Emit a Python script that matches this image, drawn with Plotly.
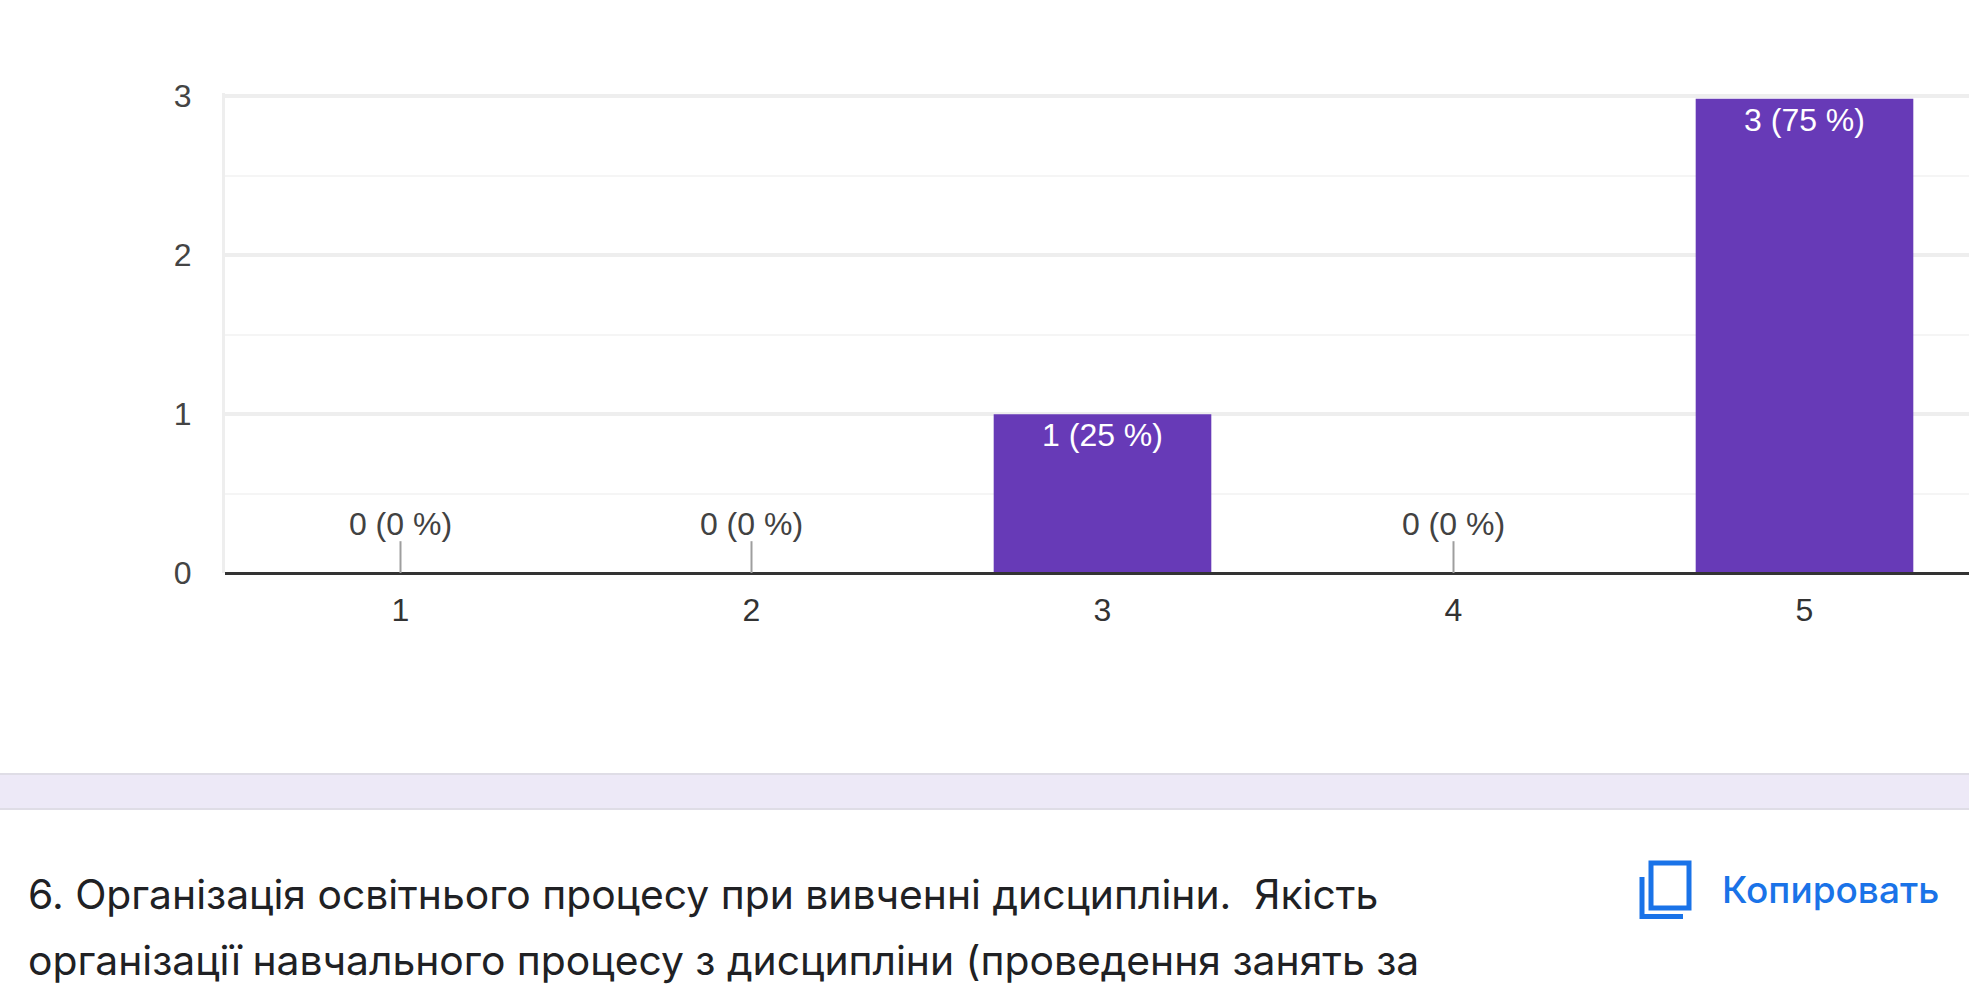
import plotly.graph_objects as go

W, H = 1969, 998

categories = [1, 2, 3, 4, 5]
counts = [0, 0, 1, 0, 3]
percents = [0, 0, 25, 0, 75]
y_ticks = [0, 1, 2, 3]
question_lines = [
    "6. Організація освітнього процесу при вивченні дисципліни.  Якість",
    "організації навчального процесу з дисципліни (проведення занять за",
]
copy_label = "Копировать"

labels = [f"{c} ({p} %)" for c, p in zip(counts, percents)]
zero_x = [x for x, c in zip(categories, counts) if c == 0]
zero_text = [t for t, c in zip(labels, counts) if c == 0]
bar_text = [t if c > 0 else "" for t, c in zip(labels, counts)]

AXIS_FONT = "Liberation Sans, Arial, sans-serif"
HEAD_FONT = "Inter, Noto Sans, sans-serif"
LABEL_SIZE = 32

fig = go.Figure()
fig.add_bar(
    x=categories, y=counts, width=0.62, yaxis="y2",
    marker=dict(color="#673ab7", line=dict(width=0)),
    text=bar_text, textposition="inside", insidetextanchor="end",
    textangle=0, constraintext="none",
    textfont=dict(family=AXIS_FONT, size=LABEL_SIZE, color="#ffffff"),
    hoverinfo="skip", showlegend=False,
)
fig.add_scatter(
    x=zero_x, y=[0] * len(zero_x), mode="markers",
    marker=dict(size=1, color="rgba(0,0,0,0)"),
    error_y=dict(type="data", symmetric=False, array=[0.2] * len(zero_x),
                 arrayminus=[0] * len(zero_x), color="#9e9e9e", thickness=2, width=0),
    hoverinfo="skip", showlegend=False,
)
fig.add_scatter(
    x=zero_x, y=[0.187] * len(zero_x), mode="text", text=zero_text,
    textposition="top center",
    textfont=dict(family=AXIS_FONT, size=LABEL_SIZE, color="#424242"),
    hoverinfo="skip", showlegend=False,
)

P = dict(xref="paper", yref="paper")
def px(x): return x / W
def py(y): return 1 - y / H

shapes = [
    # band between form cards
    dict(type="rect", **P, x0=0, x1=1, y0=py(809), y1=py(774), fillcolor="#ede9f7",
         line=dict(width=0), layer="below"),
    dict(type="line", **P, x0=0, x1=1, y0=py(774), y1=py(774), line=dict(color="#dfdde6", width=2)),
    dict(type="line", **P, x0=0, x1=1, y0=py(809), y1=py(809), line=dict(color="#dfdde6", width=2)),
    # copy icon
    dict(type="rect", **P, x0=px(1651), x1=px(1689), y0=py(908), y1=py(863),
         line=dict(color="#1a73e8", width=5), fillcolor="rgba(0,0,0,0)"),
    dict(type="path", **P,
         path=f"M {px(1642)} {py(877)} L {px(1642)} {py(916.5)} L {px(1683)} {py(916.5)}",
         line=dict(color="#1a73e8", width=5)),
]

annotations = [
    dict(**P, x=px(26), y=py(894), xanchor="left", yanchor="middle", showarrow=False,
         text=question_lines[0], font=dict(family=HEAD_FONT, size=40.8, color="#202124")),
    dict(**P, x=px(26), y=py(960), xanchor="left", yanchor="middle", showarrow=False,
         text=question_lines[1], font=dict(family=HEAD_FONT, size=40.8, color="#202124")),
    dict(**P, x=px(1720), y=py(889), xanchor="left", yanchor="middle", showarrow=False,
         text=copy_label, font=dict(family=HEAD_FONT, size=37, weight=500, color="#1a73e8")),
]

fig.update_layout(
    width=W, height=H, margin=dict(l=0, r=0, t=0, b=0),
    paper_bgcolor="#ffffff", plot_bgcolor="rgba(0,0,0,0)",
    bargap=0.38, shapes=shapes, annotations=annotations,
    xaxis=dict(
        automargin=False,
        domain=[225 / W, 1], range=[0.5, 0.5 + (W - 225) / 351],
        tickmode="array", tickvals=categories, ticktext=[str(c) for c in categories],
        showgrid=False, zeroline=False, showline=False, ticks="outside",
        ticklen=9, tickcolor="rgba(0,0,0,0)",
        tickfont=dict(family=AXIS_FONT, size=LABEL_SIZE, color="#333333"),
    ),
    yaxis=dict(
        automargin=False,
        domain=[py(573), py(92.82)], range=[0, 3.02],
        tickmode="array", tickvals=y_ticks, ticktext=[str(v) for v in y_ticks],
        showgrid=True, gridcolor="#eeeeee", gridwidth=4,
        minor=dict(dtick=0.5, tick0=0, showgrid=True, gridcolor="#f5f5f5", gridwidth=2, ticks=""),
        zeroline=True, zerolinecolor="#333333", zerolinewidth=3,
        showline=True, linecolor="#eeeeee", linewidth=3,
        ticks="outside", ticklen=24, tickcolor="rgba(0,0,0,0)",
        tickfont=dict(family=AXIS_FONT, size=LABEL_SIZE, color="#444444"),
    ),
    yaxis2=dict(
        automargin=False, anchor="x",
        domain=[py(572), py(98.5)], range=[0, 3],
        showgrid=False, zeroline=False, showline=False, showticklabels=False, ticks="",
    ),
)

fig.write_html("out.html", config=dict(displayModeBar=False),
               post_script="document.body.style.margin='0';document.body.style.overflow='hidden';")
